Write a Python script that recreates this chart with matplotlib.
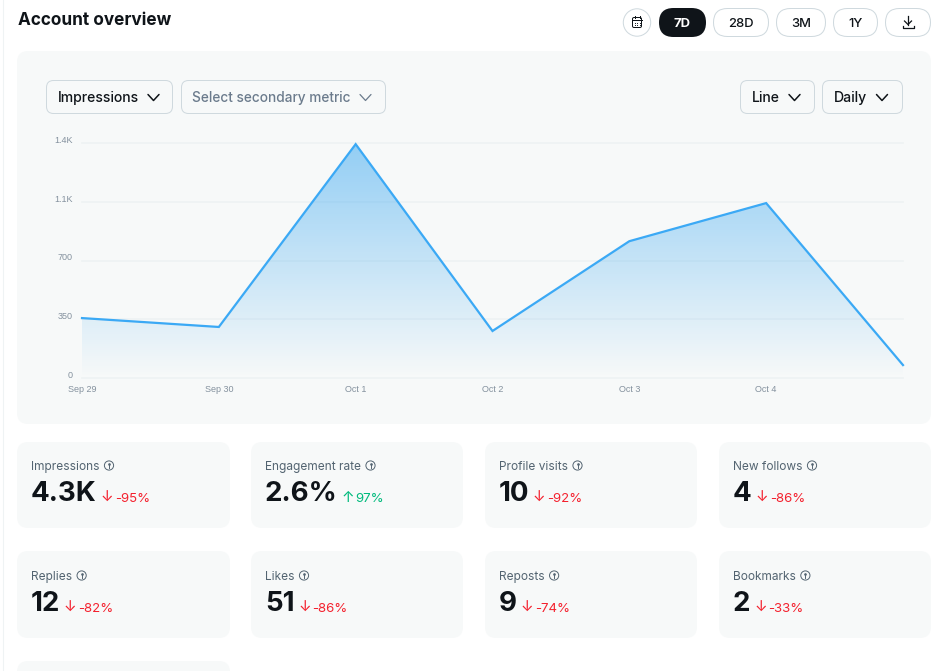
import numpy as np
import matplotlib
matplotlib.use("Agg")
import matplotlib.pyplot as plt
from matplotlib.patches import FancyBboxPatch, Circle
from matplotlib.colors import LinearSegmentedColormap

# ---- data ----
dates = ["Sep 29", "Sep 30", "Oct 1", "Oct 2", "Oct 3", "Oct 4", ""]
impressions = [357, 304, 1393, 280, 815, 1042, 77]
y_ticks = [0, 350, 700, 1050, 1400]
y_tick_labels = ["0", "350", "700", "1.1K", "1.4K"]
metric_names = ["Impressions", "Engagement rate", "Profile visits", "New follows",
                "Replies", "Likes", "Reposts", "Bookmarks"]
metric_values = ["4.3K", "2.6%", "10", "4", "12", "51", "9", "2"]
metric_deltas = [-95, 97, -92, -86, -82, -86, -74, -33]
range_pills = ["7D", "28D", "3M", "1Y"]

# ---- style ----
FONT = "Inter"
INK = "#0F1419"
MUTED = "#536471"
SLATE = "#6B7B8C"
PANEL = "#F7F9F9"
EDGE = "#CFD9DE"
BLUE = "#3BA9F5"
RED = "#F4212E"
GREEN = "#00BA7C"
PX = 0.72  # font points per pixel at dpi 100

fig = plt.figure(figsize=(9.38, 6.71), dpi=100, facecolor="white")
ui = fig.add_axes([0, 0, 1, 1], zorder=0)
ui.set_xlim(0, 938)
ui.set_ylim(671, 0)
ui.axis("off")


def box(x0, y0, x1, y1, r, fc=PANEL, ec="none", lw=0.72):
    if ec != "none":
        x0, y0, x1, y1 = x0 + 0.5, y0 + 0.5, x1 - 0.5, y1 - 0.5
    p = FancyBboxPatch((x0 + r, y0 + r), x1 - x0 - 2 * r, y1 - y0 - 2 * r,
                       boxstyle=f"round,pad={r},rounding_size={r}",
                       fc=fc, ec=ec, lw=lw, clip_on=True)
    ui.add_patch(p)


def txt(x, y, s, px, color=INK, weight="normal", ha="left", va="baseline", **kw):
    return ui.text(x, y, s, fontsize=px * PX, color=color, fontweight=weight,
                   ha=ha, va=va, family=[FONT, "DejaVu Sans"], **kw)


def chevron(cx, cy, color=INK, w=5.5, h=3.0, lw=1.1):
    ui.plot([cx - w, cx, cx + w], [cy - h, cy + h, cy - h], color=color, lw=lw,
            solid_capstyle="round", solid_joinstyle="round")


def info(cx, cy):
    ui.add_patch(Circle((cx, cy), 4.6, fc="none", ec=MUTED, lw=0.7))
    ui.plot([cx, cx], [cy - 0.4, cy + 2.2], color=MUTED, lw=0.7)
    ui.plot([cx], [cy - 2.0], marker="o", ms=0.9, color=MUTED)


# page edge
ui.plot([2.5, 2.5], [0, 671], color="#EFF3F4", lw=0.75)

# header
txt(18, 25, "Account overview", 17.2, weight="bold")

# header pills
ui.add_patch(Circle((637, 22.5), 13.7, fc="white", ec=EDGE, lw=0.72))
box(659, 8, 706, 37, 14.5, fc=INK)
for (x0, x1) in [(713, 769), (776, 826), (833, 878), (885, 931)]:
    box(x0, 8, x1, 37, 14, fc="white", ec=EDGE)
pill_centers = [682.5, 741, 801, 855.5]
for i, (lab, cx) in enumerate(zip(range_pills, pill_centers)):
    txt(cx, 27, lab, 13, color="white" if i == 0 else INK, weight="bold" if i == 0 else "medium", ha="center")

# calendar icon
box(632, 17, 642, 28, 1.5, fc="none", ec=INK, lw=0.72)
ui.plot([632.5, 641.5], [20, 20], color=INK, lw=0.72)
ui.plot([634.5, 634.5], [15.5, 17.5], color=INK, lw=0.72)
ui.plot([639.5, 639.5], [15.5, 17.5], color=INK, lw=0.72)
for gx in (634.5, 637, 639.5):
    for gy in (22.5, 25):
        ui.plot([gx], [gy], marker="s", ms=0.6, mew=0, color=INK)
# download icon
ui.plot([908, 908], [16, 24.5], color=INK, lw=0.9)
ui.plot([904.5, 908, 911.5], [21, 24.5, 21], color=INK, lw=0.9)
ui.plot([902.5, 902.5, 913.5, 913.5], [25.5, 27.5, 27.5, 25.5], color=INK, lw=0.9)

# chart panel
box(17, 51, 931, 424, 11)

# dropdowns
for (x0, x1) in [(46, 173), (181, 386), (740, 815), (822, 903)]:
    box(x0, 80, x1, 114, 7, fc=PANEL, ec=EDGE)
txt(58, 102, "Impressions", 14, weight="medium")
chevron(153.5, 97.5)
txt(192, 102, "Select secondary metric", 13.65, color=SLATE, weight="medium")
chevron(365.5, 97.5, color=SLATE, lw=0.9)
txt(752, 102, "Line", 14, weight="medium")
chevron(794.5, 97.5)
txt(834, 102, "Daily", 14, weight="medium")
chevron(882, 97.5)

# chart axes: x 82..903, y 143..378 px
ax = fig.add_axes([82 / 938, 1 - 378 / 671, (903 - 82) / 938, (378 - 143) / 671], zorder=2)
ax.patch.set_alpha(0)
x = np.arange(len(impressions))
ax.set_xlim(0, len(impressions) - 1)
ax.set_ylim(0, 1400)
for s in ax.spines.values():
    s.set_visible(False)
TICK_FONT = "Liberation Sans"
ax.set_yticks(y_ticks)
ax.set_yticklabels(y_tick_labels, fontsize=9 * PX, color="#84919E", family=TICK_FONT)
ax.set_xticks(x[:-1])
ax.set_xticklabels(dates[:-1], fontsize=9 * PX, color="#84919E", family=TICK_FONT)
ax.tick_params(axis="both", length=0)
ax.tick_params(axis="y", pad=6.5)
ax.tick_params(axis="x", pad=5)
for lab in ax.get_yticklabels():
    lab.set_verticalalignment("baseline")
ax.grid(axis="y", color="#EEF2F3", lw=1.2, zorder=1)
ax.grid(axis="x", visible=False)
ax.set_axisbelow(True)
for gl in ax.get_ygridlines():
    gl.set_clip_on(False)

cmap = LinearSegmentedColormap.from_list(
    "fade", [(0.114, 0.608, 0.941, 0.0), (0.114, 0.608, 0.941, 0.46)])
poly = ax.fill_between(x, impressions, 0, color="none", lw=0)
grad = ax.imshow(np.linspace(1, 0, 256).reshape(-1, 1), cmap=cmap, vmin=0, vmax=1,
                 extent=[0, len(impressions) - 1, 0, 1400], aspect="auto", zorder=2,
                 origin="upper")
grad.set_clip_path(poly.get_paths()[0], transform=ax.transData)
ax.plot(x, impressions, color=BLUE, lw=1.6, zorder=3, solid_joinstyle="miter", clip_on=False)

# metric cards
col_x = [(17, 230), (251, 463), (485, 697), (719, 931)]
row_y = [(442, 528), (551, 638)]
renderer = fig.canvas.get_renderer()


def right_px(t):
    return t.get_window_extent(renderer).x1


for i, (name, val, d) in enumerate(zip(metric_names, metric_values, metric_deltas)):
    x0, x1 = col_x[i % 4]
    y0, y1 = row_y[i // 4]
    dy = i // 4
    box(x0, y0, x1, y1, 11)
    tx = x0 + 14
    lab = txt(tx, y0 + 28 + dy, name, 11.9, color=MUTED)
    info(right_px(lab) + 9.5, y0 + 23.5 + dy)
    v = txt(tx, y0 + 59 + dy, val, 27.7, weight="bold")
    c = GREEN if d > 0 else RED
    vr = right_px(v)
    txt(vr + 3.5, y0 + 60 + dy, "↑" if d > 0 else "↓", 15, color=c)
    txt(vr + 18, y0 + 60.5 + dy, f"{d}%", 13.2, color=c)

# partly visible card of the next row
box(17, 661, 230, 720, 11)

fig.savefig("out.png", dpi=100, facecolor="white")
